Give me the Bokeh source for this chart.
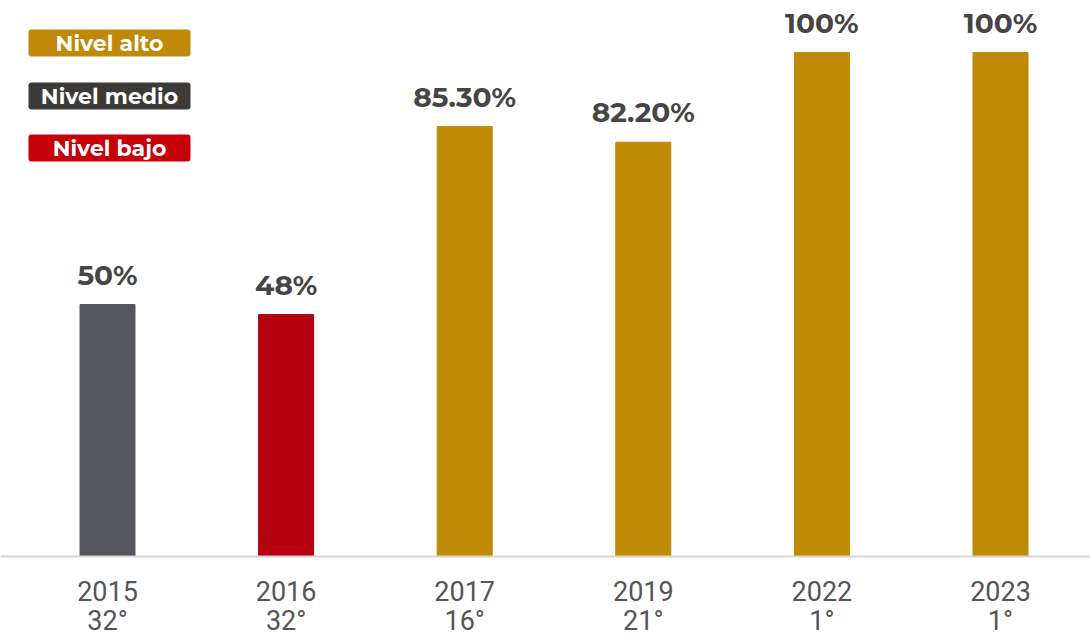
from bokeh.plotting import figure
from bokeh.models import ColumnDataSource, BoxAnnotation, Label, Range1d, Span
from bokeh.core.properties import value
from bokeh.embed import file_html
from bokeh.resources import INLINE

years = ["2015", "2016", "2017", "2019", "2022", "2023"]
ranks = ["32°", "32°", "16°", "21°", "1°", "1°"]
values = [50, 48, 85.3, 82.2, 100, 100]
value_labels = ["50%", "48%", "85.30%", "82.20%", "100%", "100%"]
levels = ["Nivel medio", "Nivel bajo", "Nivel alto", "Nivel alto", "Nivel alto", "Nivel alto"]
legend_names = ["Nivel alto", "Nivel medio", "Nivel bajo"]

bar_colors = {"Nivel alto": "#BF8A05", "Nivel medio": "#55565B", "Nivel bajo": "#B4000F"}
legend_colors = {"Nivel alto": "#C08A08", "Nivel medio": "#3C3A37", "Nivel bajo": "#C5000B"}

W, H = 1090, 638
PX_PER_CAT = 178.6
X0_PX = 107
BASE_PX = 556
PX_PER_UNIT = 5.04

xs = list(range(len(years)))
src = ColumnDataSource(dict(
    x=xs, top=values, lab=value_labels, year=years, rank=ranks,
    zero=[0] * len(xs),
    color=[bar_colors[l] for l in levels],
))

p = figure(width=W, height=H, output_backend="svg", toolbar_location=None,
           x_range=Range1d(-X0_PX / PX_PER_CAT, (W - X0_PX) / PX_PER_CAT),
           y_range=Range1d(-(H - BASE_PX) / PX_PER_UNIT, BASE_PX / PX_PER_UNIT),
           min_border=0)
p.outline_line_color = None
p.background_fill_color = "white"
p.border_fill_color = "white"
p.xgrid.visible = False
p.ygrid.visible = False
p.xaxis.visible = False
p.yaxis.visible = False

p.add_layout(Span(location=0, dimension="width", line_color="#D6D6D6", line_width=2))

p.vbar(x="x", top="top", width=55 / PX_PER_CAT, bottom=0, color="color", source=src)
p.text(x="x", y="top", text="lab", source=src, text_align="center",
       text_baseline="alphabetic", y_offset=-30, text_font=value("Montserrat"),
       text_font_style="bold", text_font_size="28px", text_color="#454545")

# category labels (two lines) below the baseline
p.text(x="x", y="zero", text="year", source=src, text_align="center",
       text_baseline="middle", y_offset=34, text_font=value("Roboto"),
       text_font_size="27px", text_color="#555555")
p.text(x="x", y="zero", text="rank", source=src, text_align="center",
       text_baseline="middle", y_offset=64, text_font=value("Roboto"),
       text_font_size="27px", text_color="#555555")

def dx(px):
    return (px - X0_PX) / PX_PER_CAT

def dy(py):
    return (BASE_PX - py) / PX_PER_UNIT

box_tops = [29, 82, 134]
for name, top in zip(legend_names, box_tops):
    p.add_layout(BoxAnnotation(left=dx(28), right=dx(190), top=dy(top), bottom=dy(top + 27),
                               fill_color=legend_colors[name], fill_alpha=1,
                               line_color=None, border_radius=3))
    p.add_layout(Label(x=dx(109), y=dy(top + 13.5), text=name, text_align="center",
                       text_baseline="middle", text_color="white", text_font="Montserrat",
                       text_font_style="bold", text_font_size="22px"))

open("out.html", "w").write(file_html(p, INLINE))
